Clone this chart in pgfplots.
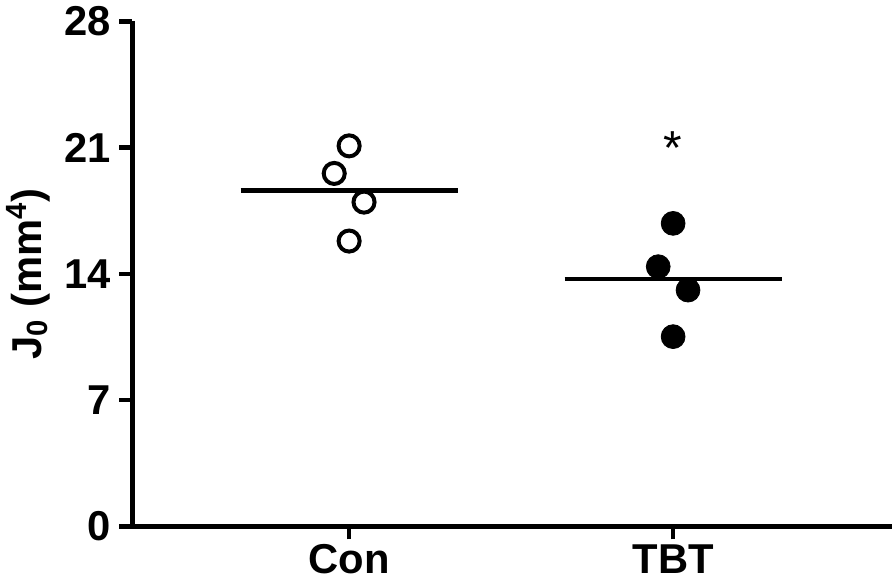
\documentclass[border=0pt]{standalone}
\usepackage{pgfplots}
\pgfplotsset{compat=1.18}
\usepackage{fontspec}
\setmainfont{Liberation Sans}

\begin{document}
\begin{tikzpicture}
\begin{axis}[
  scale only axis, width=382pt, height=254pt,
  xmin=-0.669, xmax=1.675, ymin=0, ymax=28,
  axis x line=bottom, axis y line=left,
  axis line style={line width=2.2pt,-},
  xtick={0,1}, xticklabels={Con,TBT},
  ytick={0,7,14,21,28},
  major tick length=6.5pt, tick style={line width=2.2pt,black},
  tick align=outside,
  ticklabel style={font=\fontsize{21}{24}\selectfont\bfseries},
  /pgf/number format/assume math mode=true,
  yticklabel style={xshift=-1pt},
  xticklabel style={yshift=1pt},
  ylabel={J\textsubscript{0} (mm\textsuperscript{4})},
  ylabel style={font=\fontsize{21}{24}\selectfont\bfseries, yshift=0pt},
  clip=false,
]
% Con, open circles
\addplot[only marks, mark=o, mark size=5.3pt, mark options={line width=2pt, black}]
  coordinates {(0,21.1) (-0.046,19.57) (0.046,17.98) (0,15.82)};
% TBT, filled circles
\addplot[only marks, mark=*, mark size=6pt, black]
  coordinates {(1,16.8) (0.954,14.4) (1.046,13.1) (1,10.52)};
% means
\addplot[line width=2.2pt, black] coordinates {(-0.335,18.62) (0.335,18.62)};
\addplot[line width=2.2pt, black] coordinates {(0.665,13.71) (1.335,13.71)};
\node[font=\fontsize{24}{24}\selectfont] at (axis cs:1,21.0) {*};
\end{axis}
\end{tikzpicture}
\end{document}
